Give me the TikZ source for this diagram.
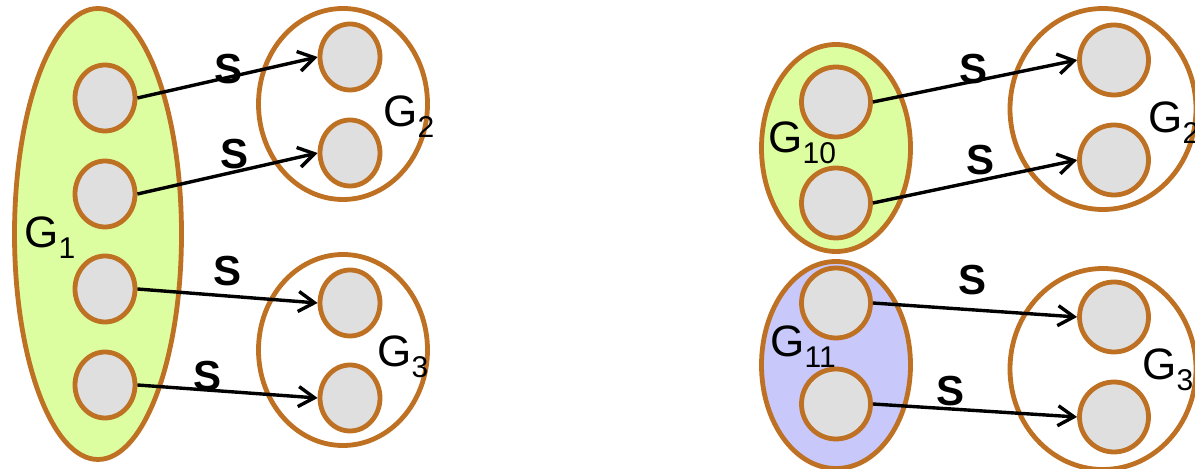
\documentclass[tikz,border=0pt]{standalone}
\usepackage{fontspec}
\setmainfont{Liberation Sans}
\usetikzlibrary{shapes.geometric,arrows.meta}
\definecolor{myOrange}{RGB}{190,112,35}
\definecolor{myGreen}{RGB}{221,254,160}
\definecolor{myBlue}{RGB}{200,200,250}
\definecolor{myGray}{RGB}{223,223,223}
\newcommand{\gsub}[1]{G\raisebox{-5.5pt}{\fontsize{15}{16}\selectfont #1}}

\begin{document}
\begin{tikzpicture}[x=0.5pt,y=-0.5pt,
    grp/.style={ellipse,draw=myOrange,line width=2.4pt,inner sep=0pt},
    vtx/.style={ellipse,draw=myOrange,line width=2.4pt,fill=myGray,inner sep=0pt,minimum width=30pt,minimum height=33pt},
    bigvtx/.style={vtx,minimum width=34.5pt,minimum height=35pt},
    map/.style={line width=1.7pt,-{Straight Barb[length=8pt,width=10pt]}},
    lbl/.style={anchor=base west,inner sep=0pt,font=\fontsize{22}{24}\selectfont},
    slbl/.style={inner sep=0pt,font=\fontsize{21}{24}\selectfont\bfseries}]
    \useasboundingbox (0,0) rectangle (1195,469);

    % left: G1 split over G2 and G3
    \node[grp,fill=myGreen,minimum width=83.5pt,minimum height=225.5pt] (g1) at (98,234) {};
    \node[grp,minimum width=84.5pt,minimum height=95.5pt] (g2) at (343,104) {};
    \node[grp,minimum width=84.5pt,minimum height=95.5pt] (g3) at (343,350) {};
    \foreach \y [count=\i] in {98,194,289,385}
        \node[vtx] (a\i) at (105,\y) {};
    \node[vtx] (b1) at (350,57) {};
    \node[vtx] (b2) at (350,153) {};
    \node[vtx] (c1) at (350,303) {};
    \node[vtx] (c2) at (350,398) {};

    \draw[map] (a1.east) -- (b1.west);
    \draw[map] (a2.east) -- (b2.west);
    \draw[map] (a3.east) -- (c1.west);
    \draw[map] (a4.east) -- (c2.west);
    \node[slbl] (s1) at (229,69) {S};
    \node[slbl] (s2) at (235,154) {S};
    \node[slbl] (s3) at (228,271) {S};
    \node[slbl] (s4) at (208,376) {S};

    \node[lbl] (l1) at (24,248) {\gsub{1}};
    \node[lbl] (l2) at (383,127) {\gsub{2}};
    \node[lbl] (l3) at (377,367) {\gsub{3}};

    % right: G10 and G11
    \node[grp,fill=myGreen,minimum width=74.5pt,minimum height=103.5pt] (g10) at (836,148) {};
    \node[grp,fill=myBlue,minimum width=74.5pt,minimum height=103.5pt] (g11) at (836,365) {};
    \node[grp,minimum width=93pt,minimum height=100.5pt] (g2r) at (1103,109) {};
    \node[grp,minimum width=93pt,minimum height=100.5pt] (g3r) at (1103,369) {};
    \node[bigvtx] (d1) at (836,102) {};
    \node[bigvtx] (d2) at (836,203) {};
    \node[bigvtx] (e1) at (836,303) {};
    \node[bigvtx] (e2) at (836,404) {};
    \node[bigvtx] (f1) at (1114,60) {};
    \node[bigvtx] (f2) at (1114,160) {};
    \node[bigvtx] (h1) at (1114,317) {};
    \node[bigvtx] (h2) at (1114,417) {};

    \draw[map] (d1.east) -- (f1.west);
    \draw[map] (d2.east) -- (f2.west);
    \draw[map] (e1.east) -- (h1.west);
    \draw[map] (e2.east) -- (h2.west);
    \node[slbl] (s5) at (973,69) {S};
    \node[slbl] (s6) at (980,160) {S};
    \node[slbl] (s7) at (972,280) {S};
    \node[slbl] (s8) at (950,391) {S};

    \node[lbl] (l10) at (768,153) {\gsub{10}};
    \node[lbl] (l11) at (770,357) {\gsub{11}};
    \node[lbl] (l2r) at (1148,133) {\gsub{2}};
    \node[lbl] (l3r) at (1142,380) {\gsub{3}};
\end{tikzpicture}
\end{document}
